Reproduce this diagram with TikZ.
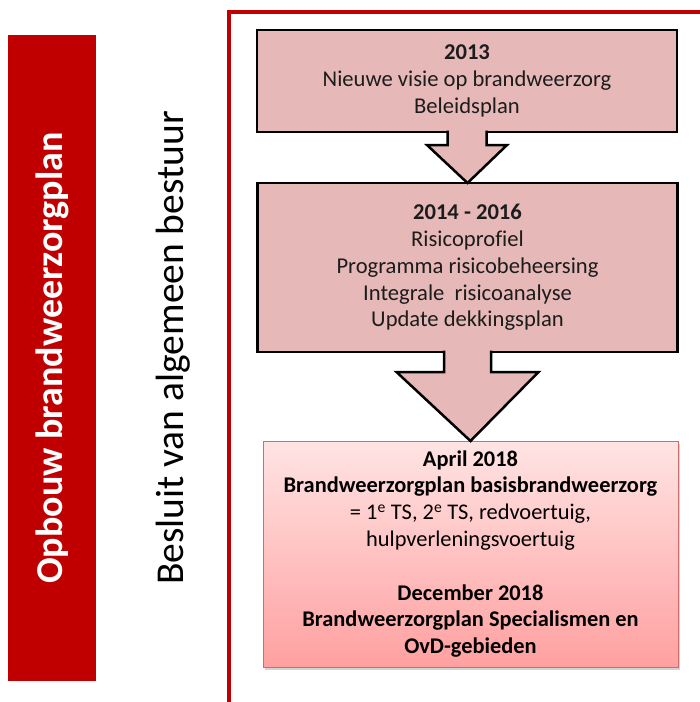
\documentclass[tikz,border=0pt]{standalone}
\usepackage{fontspec}
\setmainfont{Carlito}[Ligatures=NoCommon]
\usetikzlibrary{calc,shadows}

\definecolor{barred}{RGB}{192,0,0}
\definecolor{stagepink}{RGB}{230,185,184}
\definecolor{stagetext}{RGB}{28,28,28}
\definecolor{plantop}{RGB}{255,228,228}
\definecolor{planbottom}{RGB}{255,160,160}
\definecolor{planedge}{RGB}{205,110,110}

\tikzset{
  titlebar/.style={fill=barred, rotate=90, minimum width=646pt, minimum height=88pt,
    inner sep=0pt, text=white, font=\fontsize{38}{38}\selectfont\bfseries},
  sidelabel/.style={rotate=90, inner sep=0pt, font=\fontsize{39.5}{39.5}\selectfont},
  frameline/.style={draw=barred, line width=4pt},
  stagebox/.style={draw=black, line width=2.5pt, fill=stagepink, minimum width=420pt,
    inner sep=0pt, outer sep=0pt, align=center, text=stagetext,
    font=\fontsize{22.6}{26.8}\selectfont},
  planbox/.style={draw=planedge, line width=0.8pt, top color=plantop, bottom color=planbottom,
    drop shadow={shadow xshift=2pt, shadow yshift=-3pt, fill=black!35, opacity=.5},
    minimum width=415pt, minimum height=226pt, inner sep=0pt, outer sep=0pt,
    align=center, font=\fontsize{22.4}{26.8}\selectfont},
  flowarrow/.style={draw=black, line width=2.5pt, fill=stagepink, line join=miter},
}

\begin{document}
\begin{tikzpicture}[x=1pt, y=-1pt]
\useasboundingbox (0,0) rectangle (700,702);

% left hand labels
\node[titlebar] (bar) at (52,358) {Opbouw brandweerzorgplan};
\node[sidelabel] (bestuur) at (173,348) {Besluit van algemeen bestuur};

% frame round the stages
\coordinate (frameBL) at (229,708);
\coordinate (frameTL) at (229,12);
\coordinate (frameTR) at (706,12);
\draw[frameline] (frameBL) -- (frameTL) -- (frameTR);

% stages
\node[stagebox, minimum height=102pt] (s1) at (467,81)
  {\textbf{2013}\\ Nieuwe visie op brandweerzorg\\ Beleidsplan};
\node[stagebox, minimum height=169pt] (s2) at (467.5,267.5)
  {\textbf{2014 - 2016}\\ Risicoprofiel\\ Programma risicobeheersing\\
   Integrale\ \ risicoanalyse\\ Update dekkingsplan};
\node[planbox] (s3) at (470.5,554)
  {\textbf{April 2018}\\ \textbf{Brandweerzorgplan basisbrandweerzorg}\\
   = 1\textsuperscript{e} TS, 2\textsuperscript{e} TS, redvoertuig,\\
   hulpverleningsvoertuig\\[26.8pt]
   \textbf{December 2018}\\ \textbf{Brandweerzorgplan Specialismen en}\\
   \textbf{OvD-gebieden}};

% arrows between the stages
\draw[flowarrow] ($(s1.south)+(-19.5,-1.3)$) -- ($(s1.south)+(-19.5,13)$)
  -- ($(s1.south)+(-40,13)$) -- (s2.north) -- ($(s1.south)+(40,13)$)
  -- ($(s1.south)+(19.5,13)$) -- ($(s1.south)+(19.5,-1.3)$);
\draw[flowarrow] ($(s2.south)+(-23.5,-1.3)$) -- ($(s2.south)+(-23.5,20)$)
  -- ($(s2.south)+(-71,20)$) -- (s3.north) -- ($(s2.south)+(71,20)$)
  -- ($(s2.south)+(23.5,20)$) -- ($(s2.south)+(23.5,-1.3)$);
\end{tikzpicture}
\end{document}
